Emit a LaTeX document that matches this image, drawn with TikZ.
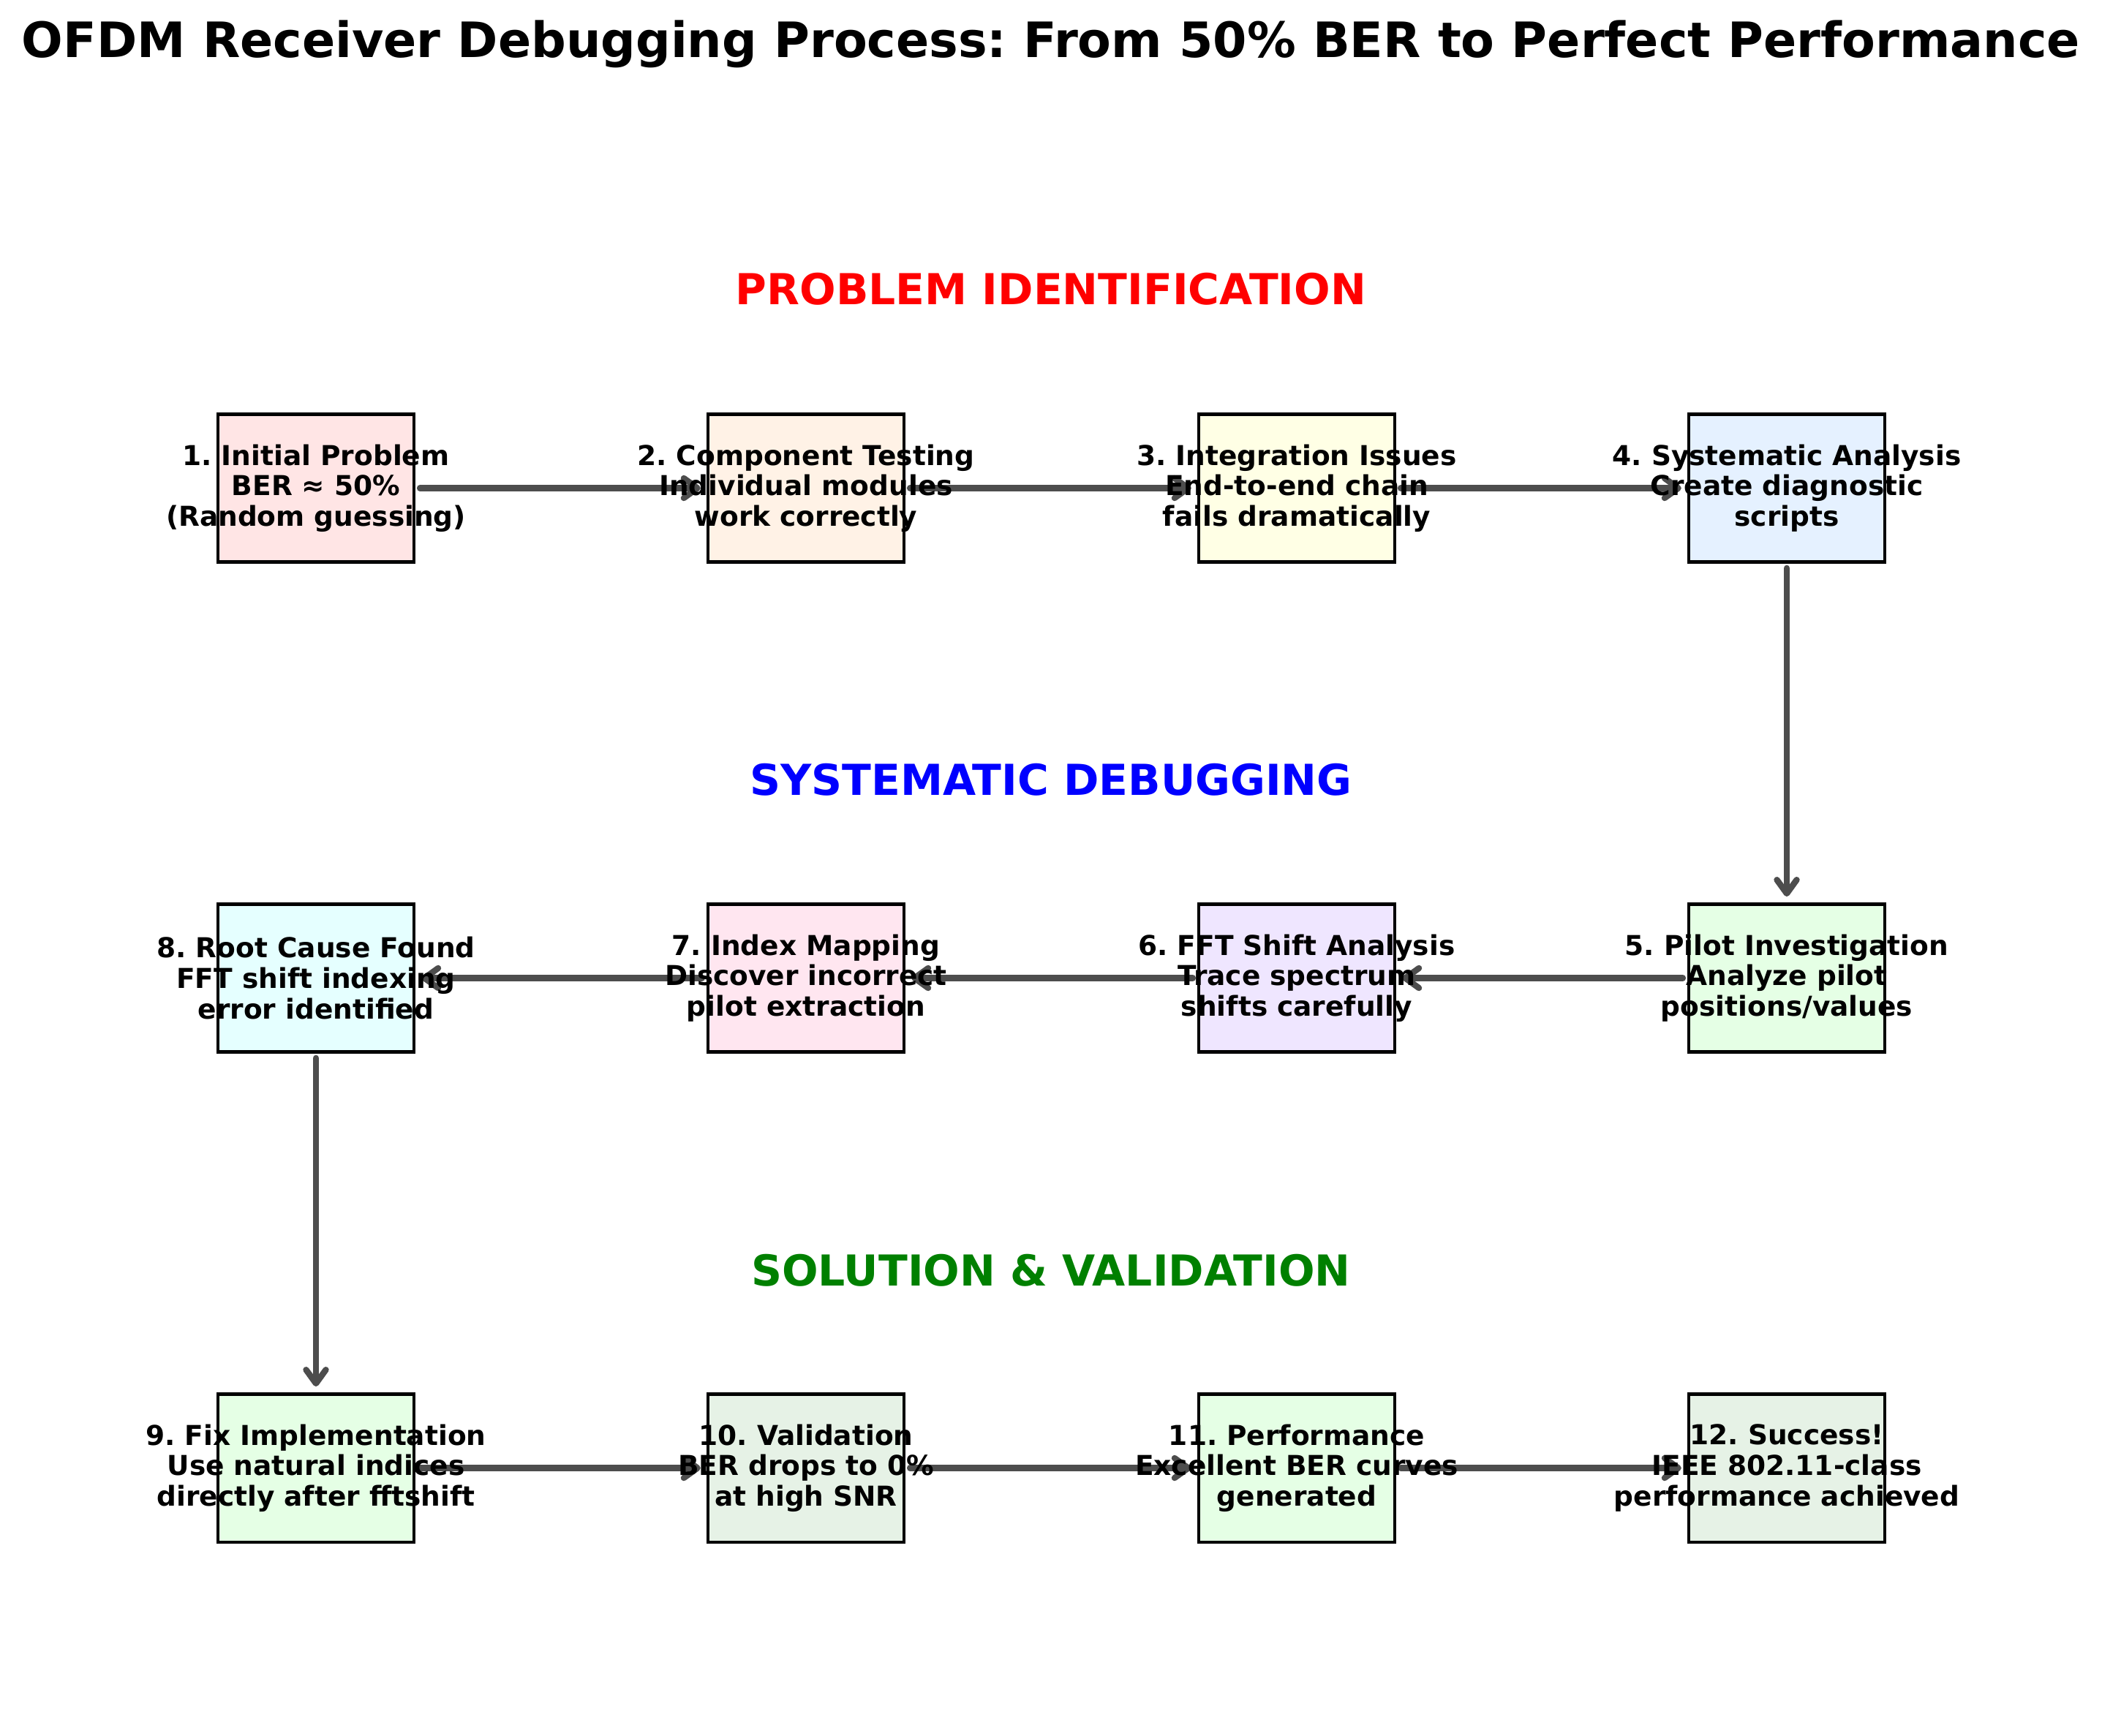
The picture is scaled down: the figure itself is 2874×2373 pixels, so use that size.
\documentclass[tikz,border=0pt]{standalone}
\usepackage{fontspec}
\setmainfont{DejaVu Sans}
\frenchspacing
\usetikzlibrary{arrows.meta}
\pgfdeclarelayer{back}
\pgfdeclarelayer{bg}
\pgfsetlayers{back,bg,main}
\definecolor{arrowgray}{HTML}{4D4D4D}
\definecolor{fA}{HTML}{FFE5E5}
\definecolor{fB}{HTML}{FFF2E6}
\definecolor{fC}{HTML}{FFFFE5}
\definecolor{fD}{HTML}{E5F1FF}
\definecolor{fE}{HTML}{E5FFE5}
\definecolor{fF}{HTML}{EFE6FF}
\definecolor{fG}{HTML}{FFE6F0}
\definecolor{fH}{HTML}{E5FFFF}
\definecolor{fI}{HTML}{E6F2E6}
\definecolor{secgreen}{HTML}{008000}
\begin{document}
\frenchspacing
\begin{tikzpicture}[x=0.24pt,y=-0.24pt,
  box/.style={draw=black,line width=1pt,minimum width=64.2pt,minimum height=48.5pt,inner sep=0pt,outer sep=0pt},
  lbl/.style={font=\fontsize{9}{10}\selectfont\bfseries\frenchspacing,align=center,inner sep=0pt},
  sect/.style={font=\fontsize{14}{17}\selectfont\bfseries,anchor=base},
  flow/.style={draw=arrowgray,line width=2pt,line cap=round,-{Straight Barb[length=4.5pt,width=6.5pt,round]},shorten <=2pt,shorten >=2.5pt}]
\useasboundingbox (0,0) rectangle (2874,2373);
\begin{pgfonlayer}{back}
\fill[white] (0,0) rectangle (2874,2373);
\end{pgfonlayer}

\node[font=\fontsize{16}{19}\selectfont\bfseries\frenchspacing,anchor=base] (title) at (1437,78) {OFDM Receiver Debugging Process: From 50\% BER to Perfect Performance};

\node[sect,text=red] (s1) at (1437,416) {PROBLEM IDENTIFICATION};
\node[sect,text=blue] (s2) at (1437,1087) {SYSTEMATIC DEBUGGING};
\node[sect,text=secgreen] (s3) at (1437,1758) {SOLUTION \& VALIDATION};

% boxes
\node[box,fill=fA] (b1) at (432,667.5) {};
\node[box,fill=fB] (b2) at (1102,667.5) {};
\node[box,fill=fC] (b3) at (1773,667.5) {};
\node[box,fill=fD] (b4) at (2443,667.5) {};
\node[box,fill=fE] (b5) at (2443,1337.5) {};
\node[box,fill=fF] (b6) at (1773,1337.5) {};
\node[box,fill=fG] (b7) at (1102,1337.5) {};
\node[box,fill=fH] (b8) at (432,1337.5) {};
\node[box,fill=fE] (b9) at (432,2007.5) {};
\node[box,fill=fI] (b10) at (1102,2007.5) {};
\node[box,fill=fE] (b11) at (1773,2007.5) {};
\node[box,fill=fI] (b12) at (2443,2007.5) {};

% connectors
\begin{pgfonlayer}{bg}
\draw[flow] (b1.east) -- (b2.west);
\draw[flow] (b2.east) -- (b3.west);
\draw[flow] (b3.east) -- (b4.west);
\draw[flow] (b4.south) -- (b5.north);
\draw[flow] (b5.west) -- (b6.east);
\draw[flow] (b6.west) -- (b7.east);
\draw[flow] (b7.west) -- (b8.east);
\draw[flow] (b8.south) -- (b9.north);
\draw[flow] (b9.east) -- (b10.west);
\draw[flow] (b10.east) -- (b11.west);
\draw[flow] (b11.east) -- (b12.west);
\end{pgfonlayer}

% labels
\node[lbl] (t1) at (b1) {1. Initial Problem\\BER ≈ 50\%\\(Random guessing)};
\node[lbl] (t2) at (b2) {2. Component Testing\\Individual modules\\work correctly};
\node[lbl] (t3) at (b3) {3. Integration Issues\\End-to-end chain\\fails dramatically};
\node[lbl] (t4) at (b4) {4. Systematic Analysis\\Create diagnostic\\scripts};
\node[lbl] (t5) at (b5) {5. Pilot Investigation\\Analyze pilot\\positions/values};
\node[lbl] (t6) at (b6) {6. FFT Shift Analysis\\Trace spectrum\\shifts carefully};
\node[lbl] (t7) at (b7) {7. Index Mapping\\Discover incorrect\\pilot extraction};
\node[lbl] (t8) at (b8) {8. Root Cause Found\\FFT shift indexing\\error identified};
\node[lbl] (t9) at (b9) {9. Fix Implementation\\Use natural indices\\directly after fftshift};
\node[lbl] (t10) at (b10) {10. Validation\\BER drops to 0\%\\at high SNR};
\node[lbl] (t11) at (b11) {11. Performance\\Excellent BER curves\\generated};
\node[lbl] (t12) at (b12) {12. Success!\\IEEE 802.11-class\\performance achieved};
\end{tikzpicture}
\end{document}
